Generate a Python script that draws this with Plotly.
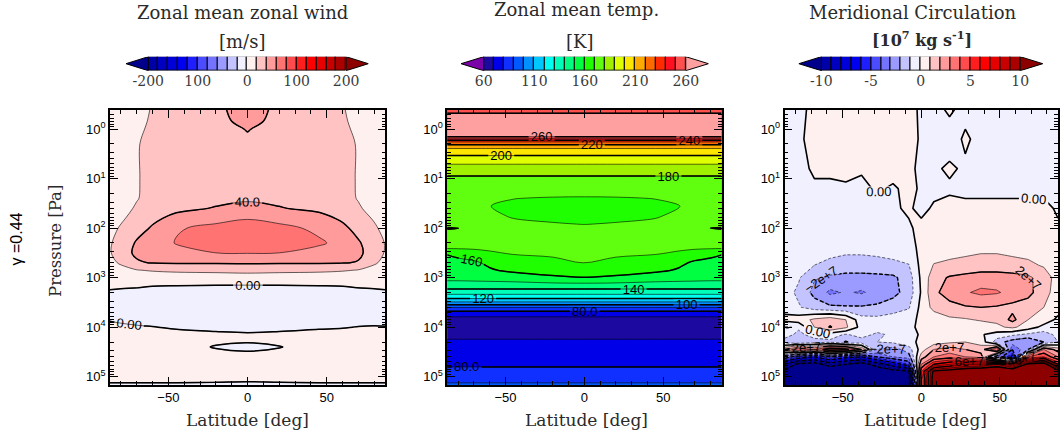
import numpy as np
import plotly.graph_objects as go

# ======================= DATA =======================
# Panel 1 : zonal-mean zonal wind [m/s]
wind_lat = [-87, -80, -70, -60, -45, -20, 0, 20, 45, 60, 70, 80, 87]
wind_p = [0.4, 0.7, 1.0, 2.0, 10, 25, 40, 63, 100, 200, 316, 500, 708, 1000,
          1585, 3162, 6310, 10000, 15850, 25120, 39810, 79430, 112200, 158500]
wind_u = [
    [8, 10, 15, 21, 26, 34, 52, 34, 26, 21, 15, 10, 8],
    [8, 10, 16, 22, 27, 33, 47, 33, 27, 22, 16, 10, 8],
    [8, 10, 17, 23, 27, 32, 41, 32, 27, 23, 17, 10, 8],
    [8, 11, 19, 24, 27, 31, 36, 31, 27, 24, 19, 11, 8],
    [8, 11, 19, 24, 28, 31, 34, 31, 28, 24, 19, 11, 8],
    [8, 12, 19, 26, 31, 36, 38, 36, 31, 26, 19, 12, 8],
    [9, 14, 22, 29, 36, 41, 44, 41, 36, 29, 22, 14, 9],
    [11, 17, 27, 36, 45, 55, 59, 55, 46, 37, 28, 18, 11],
    [14, 22, 33, 42, 58.5, 64, 67, 64, 57, 44, 34, 23, 14],
    [18, 28, 42, 50, 61, 69, 70, 69, 62, 56, 42, 30, 19],
    [18, 33, 43, 48, 54, 60, 61, 60, 55, 49, 43, 33, 18],
    [12, 24, 38, 41, 42, 42, 42, 42, 42, 41, 39, 24, 12],
    [3, 10, 19, 22, 24, 25, 26, 25, 24, 22, 19, 10, 3],
    [3, 4, 6, 7, 9, 10, 11, 10, 9, 7, 6, 4, 3],
    [1, 0.5, 0.2, -1, -2, -3, -3.5, -3, -2, -1, 0.2, 0.5, 1],
    [-6, -6, -7, -7, -8, -8, -8, -8, -8, -7, -7, -6, -6],
    [-2, -3, -4, -5, -5, -6, -6, -6, -5, -5, -4, -3, -2],
    [3, 2, 1, 0.3, -1, -2, -2.5, -2, -1, -0.5, 0.3, 0.5, 0.2],
    [5, 5, 4.5, 4, 3.5, 2.5, 2, 2.5, 3.5, 4, 4.5, 5, 5],
    [5, 5, 4.5, 4, 3, -0.5, -1.5, -0.3, 3, 4, 4.5, 5, 5],
    [5, 5, 4.5, 4, 3.5, 2.5, 2, 2.5, 3.5, 4, 4.5, 5, 5],
    [2.5, 2.5, 2.5, 2.5, 2.5, 2.5, 2.5, 2.5, 2.5, 2.5, 2.5, 2.5, 2.5],
    [1.5, 1.5, 1.5, 1.5, 1.5, 1.2, 0.8, 1.2, 1.5, 1.5, 1.5, 1.5, 1.5],
    [-1.5, -1.5, -1.5, -1.5, -1.5, -1.6, -1.6, -1.6, -1.5, -1.5, -1.5, -1.5, -1.5],
]

# Panel 2 : zonal-mean temperature [K]
temp_lat = [-87, -80, -70, -60, -45, -20, 0, 20, 45, 60, 70, 80, 87]
temp_p = [0.40, 0.56, 1.0, 1.26, 1.45, 1.58, 1.78, 2.0, 2.5, 3.5, 5.0, 9.0,
          14, 25, 36, 56, 83, 100, 141, 257, 339, 500, 708, 1000,
          1479, 1950, 2427, 2884, 3311, 3758, 4315, 5248, 7079, 10000, 12589,
          19953, 31623, 50119, 89125, 112202, 158489]
temp_k = [
    [256.5] * 13,
    [263] * 13,
    [268] * 13,
    [265] * 13,
    [259.5] * 13,
    [249] * 13,
    [232] * 13,
    [222] * 13,
    [209.5] * 13,
    [199.5] * 13,
    [190.5] * 13,
    [179.8] * 13,
    [177, 177, 177, 177, 177, 176, 176, 176, 177, 177, 177, 177, 177],
    [175, 174, 173, 172, 170.2, 169.4, 169.2, 169.4, 170.2, 172, 173, 174, 175],
    [174, 173, 172, 170.1, 168.5, 168, 168, 168, 168.5, 169.8, 172, 173, 174],
    [174, 173, 172, 171, 169.5, 168.8, 168.5, 168.8, 169.5, 171, 172, 173, 174],
    [175, 174, 173, 172, 171, 170.3, 169.9, 170.3, 171, 172, 173, 174, 175],
    [181, 180.3, 176, 173, 172, 171, 171, 171, 172, 173, 176, 180.3, 181],
    [175, 174, 173, 173, 172, 171.5, 171.5, 171.5, 172, 173, 173, 174, 175],
    [170.2, 170.5, 171, 171.5, 172, 172.5, 172.5, 172.5, 172, 171.5, 171, 170.5, 170.2],
    [160.2, 162, 164.5, 168, 170.1, 171, 171.5, 171, 170.1, 168, 164.5, 162, 160.2],
    [157, 157.5, 158.5, 162, 165, 168, 170.3, 168, 165, 162, 158.5, 157.5, 157],
    [155, 155, 155.5, 159, 162, 164, 165, 164, 162, 159, 155.5, 155, 155],
    [153, 153, 153.5, 154, 155, 158.5, 159.8, 158.5, 155, 154, 153.5, 153, 153],
    [145] * 13,
    [135] * 13,
    [125] * 13,
    [115] * 13,
    [105] * 13,
    [95] * 13,
    [85] * 13,
    [75] * 13,
    [66] * 13,
    [62.5] * 13,
    [65] * 13,
    [72] * 13,
    [76] * 13,
    [79.3] * 13,
    [81] * 13,
    [87] * 13,
    [93] * 13,
]

# Panel 3 : meridional mass streamfunction [10^7 kg/s]
circ_lat = [-87, -78, -68, -58, -48, -38, -28, -18, -8, 0, 8, 18, 28, 38, 48, 58, 68, 78, 87]
circ_p = [0.4, 1.6, 6.3, 16, 40, 100, 251, 562, 1000, 1995, 3981, 7079, 10000,
          14125, 19953, 28184, 39811, 56234, 79433, 112202, 158489]
circ_psi_1e7 = [
    [-0.2, -0.2, 0.2, 0.3, 0.2, 0.3, 0.2, 0.3, 0.2, -0.1, -0.2, 0.1, -0.2, -0.3, -0.2, -0.3, -0.2, -0.3, -0.2],
    [-0.2, -0.1, 0.2, 0.2, 0.1, 0.3, 0.2, 0.2, 0.3, -0.1, -0.2, -0.3, 0.1, -0.2, -0.3, -0.2, -0.1, -0.2, -0.2],
    [-0.1, -0.2, 0.1, 0.2, 0.2, 0.1, 0.2, 0.3, 0.2, -0.2, -0.1, 0.1, -0.1, -0.2, -0.1, -0.2, -0.3, -0.1, -0.2],
    [-0.2, -0.1, -0.1, -0.2, -0.1, -0.2, 0.1, -0.1, 0.2, -0.1, -0.2, -0.1, -0.2, -0.1, -0.2, -0.1, -0.2, -0.2, -0.1],
    [-0.2, -0.3, -0.2, -0.3, -0.2, -0.3, -0.2, -0.1, 0.1, -0.2, 0.1, 0.2, 0.2, 0.1, 0.2, 0.1, 0.2, 0.2, -0.1],
    [-0.3, -0.4, -0.5, -0.5, -0.5, -0.5, -0.4, -0.3, -0.1, 0.2, 0.3, 0.4, 0.4, 0.4, 0.4, 0.4, 0.3, 0.2, 0.1],
    [-0.3, -0.5, -0.6, -0.7, -0.8, -0.8, -0.7, -0.6, -0.3, 0.2, 0.5, 0.6, 0.7, 0.8, 0.8, 0.7, 0.6, 0.4, 0.2],
    [-0.4, -0.7, -1.0, -1.2, -1.3, -1.3, -1.3, -1.2, -1.05, 0.3, 1.05, 1.2, 1.3, 1.4, 1.4, 1.3, 1.2, 0.9, 0.5],
    [-0.5, -0.9, -1.9, -2.2, -2.4, -2.4, -2.3, -2.2, -1.5, 0.2, 1.6, 2.1, 2.3, 2.5, 2.5, 2.4, 2.2, 1.5, 0.6],
    [-0.6, -1.2, -2.3, -3.2, -2.9, -3.1, -2.7, -2.3, -1.6, 0.1, 1.8, 2.4, 2.9, 3.2, 3.1, 2.7, 2.3, 1.4, 0.5],
    [-0.4, -0.9, -1.5, -1.8, -1.9, -1.9, -1.8, -1.5, -1.1, 0.3, 1.3, 1.7, 1.9, 2.0, 1.9, 1.7, 1.5, 1.0, 0.4],
    [0.3, 0.5, 1.2, 1.6, 1.0, -0.6, -0.7, -0.5, -0.3, 0.2, 0.4, 0.8, 0.9, 1.1, 1.2, 2.3, 1.0, 0.5, -0.2],
    [-1.2, -0.8, 1.0, 2.1, 1.2, -0.4, -0.5, -0.3, -0.2, 0.2, 0.3, 0.4, 0.3, 0.5, 0.8, 1.2, 0.5, -0.3, -0.6],
    [-0.5, -1.3, -0.5, -0.6, -1.1, -0.6, -1.2, -0.8, -0.3, 0.1, 0.4, 0.3, 0.2, 0.1, -0.4, -0.8, -1.2, -1.5, -0.7],
    [-1.5, -2.0, -1.5, -1.2, -2.1, -1.5, -1.0, -0.8, -0.4, 0.3, 0.5, 0.8, 1.0, 0.6, -1.5, -2.5, -3.0, -2.0, -1.0],
    [2.0, 4.0, 3.0, 5.0, 4.5, 2.0, -2.0, -2.5, -1.5, 0.5, 2.0, 2.5, 2.0, 1.5, 4.0, -4.0, -2.0, 3.0, 1.5],
    [-3.0, -5.0, -6.0, -4.0, -5.5, -6.0, -4.0, -3.0, -2.5, 1.5, 3.0, 3.5, 3.0, 2.5, -3.0, -6.0, 4.0, 5.0, 3.0],
    [-8.0, -10.5, -11.0, -9.0, -10.0, -11.0, -9.0, -7.0, -5.0, 3.0, 6.0, 7.0, 8.0, 8.0, 9.0, 7.0, 10.5, 11.0, 6.0],
    [-11.0, -12.0, -12.5, -12.5, -12.5, -12.5, -12.0, -11.0, -10.5, 5.0, 10.5, 11.0, 11.5, 12.0, 12.0, 12.0, 12.5, 12.0, 11.0],
    [-12.0, -13.0, -13.0, -13.0, -13.0, -13.0, -13.0, -12.5, -11.0, 4.0, 11.0, 12.0, 12.5, 13.0, 13.0, 13.0, 13.0, 12.5, 12.0],
    [-12.0, -13.0, -13.0, -13.0, -13.0, -13.0, -13.0, -12.5, -11.0, 4.0, 11.0, 12.0, 12.5, 13.0, 13.0, 13.0, 13.0, 12.5, 12.0],
]

# contour / colour-bar levels
wind_levels = [-200, -180, -160, -140, -120, -100, -80, -60, -40, -20, 0,
               20, 40, 60, 80, 100, 120, 140, 160, 180, 200]
temp_levels = [60, 70, 80, 90, 100, 110, 120, 130, 140, 150, 160,
               170, 180, 190, 200, 210, 220, 230, 240, 250, 260]
circ_levels = [-10, -9, -8, -7, -6, -5, -4, -3, -2, -1, 0,
               1, 2, 3, 4, 5, 6, 7, 8, 9, 10]

# colour tables: [below-range, 20 bands, above-range]
bwr_colors = ["#00008c", "#0000a8", "#0000c0", "#0000d8", "#0000f0", "#1e1eff",
              "#4b4bff", "#7373ff", "#9b9bff", "#c3c3ff", "#f0f0ff",
              "#fff0f0", "#ffc3c3", "#ff9b9b", "#ff7373", "#ff4b4b", "#ff1e1e",
              "#ff0000", "#e60000", "#c80000", "#aa0000", "#8c0000"]
temp_colors = ["#7a00a8", "#1c0aa0", "#0000e8", "#1030ff", "#0058ff", "#0090ff",
               "#00c8ff", "#00fff0", "#00ffb8", "#00ff80", "#00ff40",
               "#20ff00", "#60ff10", "#a0f000", "#e0ff00", "#ffe600", "#ffaa00",
               "#ff6a00", "#ff2a00", "#ff1020", "#ff5050", "#ffa0a0"]

# tick labels
lat_tickvals = [-50, 0, 50]
lat_ticktext = ["\u221250", "0", "50"]
lat_minor = [-80, -70, -60, -40, -30, -20, -10, 10, 20, 30, 40, 60, 70, 80]
p_tickvals = [1, 10, 100, 1000, 10000, 100000]
p_ticktext = ["10<sup>0</sup>", "10<sup>1</sup>", "10<sup>2</sup>",
              "10<sup>3</sup>", "10<sup>4</sup>", "10<sup>5</sup>"]
wind_cb_vals = [-200, -100, 0, 100, 200]
wind_cb_text = ["-200", "100", "0", "100", "200"]
temp_cb_vals = [60, 110, 160, 210, 260]
temp_cb_text = ["60", "110", "160", "210", "260"]
circ_cb_vals = [-10, -5, 0, 5, 10]
circ_cb_text = ["-10", "-5", "0", "5", "10"]

# ======================= STYLE =======================
W, H = 1060, 435
SERIF = "DejaVu Serif"
SANS = "Liberation Sans"
TXT = "#2a2a2a"


def px_x(v):
    return v / W


def px_y(v):
    return 1 - v / H


p_minor = [m * 10.0 ** e for e in range(-1, 5) for m in range(2, 10)]
p_minor = [v for v in p_minor if 0.41 < v < 1.47e5]

panel_x = [[110, 386], [448, 723], [786, 1060]]
panel_y = [px_y(385), px_y(110)]
LAT_RANGE = [-87, 87]
P_RANGE = [5.168, -0.384]


def colorscale(colors):
    n = len(colors) - 1
    return [[i / n, c] for i, c in enumerate(colors)]


def fill_trace(x, y, z, levels, colors, k, lw, smooth):
    return go.Contour(
        x=x, y=y, z=z, xaxis=f"x{k}", yaxis=f"y{k}", autocontour=False,
        contours=dict(start=levels[0], end=levels[-1], size=levels[1] - levels[0],
                      coloring="fill", showlines=lw > 0),
        colorscale=colorscale(colors), showscale=False,
        line=dict(color="black", width=lw if lw > 0 else 0.1, smoothing=smooth),
        hoverinfo="skip")


def line_trace(x, y, z, start, end, size, k, width, dash="solid",
               labels=False, fmt=".3r", smooth=1.0):
    return go.Contour(
        x=x, y=y, z=z, xaxis=f"x{k}", yaxis=f"y{k}", autocontour=False,
        contours=dict(start=start, end=end, size=size, coloring="none",
                      showlabels=labels, labelformat=fmt,
                      labelfont=dict(family=SANS, size=13, color="black")),
        line=dict(color="black", width=width, dash=dash, smoothing=smooth),
        showscale=False, hoverinfo="skip")


fig = go.Figure()

# ---- panel 1 : wind
fig.add_trace(fill_trace(wind_lat, wind_p, wind_u, wind_levels, bwr_colors, "", 0.6, 1.0))
fig.add_trace(line_trace(wind_lat, wind_p, wind_u, -40, 80, 40, "", 1.5, labels=True))

# ---- panel 2 : temperature
fig.add_trace(fill_trace(temp_lat, temp_p, temp_k, temp_levels, temp_colors, 2, 0.6, 1.0))
fig.add_trace(line_trace(temp_lat, temp_p, temp_k, 60, 260, 20, 2, 1.5, labels=True))

# ---- panel 3 : circulation (kg/s)
psi = (np.array(circ_psi_1e7) * 1e7).tolist()
lv = [v * 1e7 for v in circ_levels]
step = lv[1] - lv[0]
fig.add_trace(fill_trace(circ_lat, circ_p, psi, lv, bwr_colors, 3, 0, 0))
fig.add_trace(line_trace(circ_lat, circ_p, psi, lv[0], -step, step, 3, 0.6,
                         dash="3px,2px", smooth=0))
fig.add_trace(line_trace(circ_lat, circ_p, psi, step, lv[-1], step, 3, 0.6, smooth=0))
fig.add_trace(line_trace(circ_lat, circ_p, psi, lv[0], -2 * step, 2 * step, 3, 1.4,
                         dash="4px,2px", labels=True, fmt=".0e", smooth=0))
fig.add_trace(line_trace(circ_lat, circ_p, psi, 2 * step, lv[-1], 2 * step, 3, 1.4,
                         labels=True, fmt=".0e", smooth=0))
fig.add_trace(line_trace(circ_lat, circ_p, psi, 0, 0, step, 3, 1.6,
                         labels=True, fmt=".3r", smooth=0))

# ---- colour bars (bars + end triangles on their own axes)
cb_specs = [
    (4, wind_levels, bwr_colors, 45),
    (5, temp_levels, temp_colors, 22.5),
    (6, circ_levels, bwr_colors, 2.27),
]
for k, levels, colors, ext in cb_specs:
    lo, hi = levels[0], levels[-1]
    widths = [levels[i + 1] - levels[i] for i in range(len(levels) - 1)]
    centers = [levels[i] + widths[i] / 2 for i in range(len(widths))]
    fig.add_trace(go.Bar(
        x=centers, y=[1] * len(centers), width=widths, base=0,
        marker=dict(color=colors[1:-1], line=dict(color="black", width=1)),
        xaxis=f"x{k}", yaxis=f"y{k}", hoverinfo="skip", cliponaxis=False,
        showlegend=False))
    fig.add_trace(go.Scatter(
        x=[lo, lo - ext, lo, lo], y=[0, 0.5, 1, 0], mode="lines", fill="toself",
        fillcolor=colors[0], line=dict(color="black", width=1),
        xaxis=f"x{k}", yaxis=f"y{k}", hoverinfo="skip", cliponaxis=False,
        showlegend=False))
    fig.add_trace(go.Scatter(
        x=[hi, hi + ext, hi, hi], y=[0, 0.5, 1, 0], mode="lines", fill="toself",
        fillcolor=colors[-1], line=dict(color="black", width=1),
        xaxis=f"x{k}", yaxis=f"y{k}", hoverinfo="skip", cliponaxis=False,
        showlegend=False))

# ======================= LAYOUT =======================
layout = dict(width=W, height=H, margin=dict(l=0, r=0, t=0, b=0),
              paper_bgcolor="white", plot_bgcolor="white", showlegend=False,
              bargap=0, barmode="overlay")

tick_font = dict(family=SANS, size=13, color="black")
for i, (x0, x1) in enumerate(panel_x):
    suf = "" if i == 0 else str(i + 1)
    layout[f"xaxis{suf}"] = dict(
        domain=[px_x(x0), px_x(x1)], anchor=f"y{suf}", range=LAT_RANGE,
        tickmode="array", tickvals=lat_tickvals, ticktext=lat_ticktext,
        ticks="inside", ticklen=8, tickwidth=1, tickcolor="black",
        minor=dict(tickmode="array", tickvals=lat_minor, ticks="inside",
                   ticklen=4, tickwidth=1, tickcolor="black"),
        showline=True, linecolor="black", linewidth=1.5, mirror="ticks",
        showgrid=False, zeroline=False, tickfont=tick_font)
    layout[f"yaxis{suf}"] = dict(
        domain=panel_y, anchor=f"x{suf}", type="log", range=P_RANGE,
        tickmode="array", tickvals=p_tickvals, ticktext=p_ticktext,
        ticks="inside", ticklen=8, tickwidth=1, tickcolor="black",
        minor=dict(tickmode="array", tickvals=p_minor, ticks="inside",
                   ticklen=4, tickwidth=1, tickcolor="black"),
        showline=True, linecolor="black", linewidth=1.5, mirror="ticks",
        showgrid=False, zeroline=False, tickfont=tick_font)

cb_x = {4: [126, 369.3], 5: [461.7, 710], 6: [800, 1045]}
cb_rng = {4: [-245.5, 245.5], 5: [37.3, 282.7], 6: [-12.3, 12.3]}
cb_ticks = {4: (wind_cb_vals, wind_cb_text), 5: (temp_cb_vals, temp_cb_text),
            6: (circ_cb_vals, circ_cb_text)}
for k in (4, 5, 6):
    layout[f"xaxis{k}"] = dict(
        domain=[px_x(cb_x[k][0]), px_x(cb_x[k][1])], anchor=f"y{k}",
        range=cb_rng[k], tickmode="array", tickvals=cb_ticks[k][0],
        ticktext=cb_ticks[k][1], ticks="", showline=False, showgrid=False,
        zeroline=False, tickfont=dict(family=SERIF, size=14, color="#3a3a3a"))
    layout[f"yaxis{k}"] = dict(domain=[px_y(70.7), px_y(56.7)], anchor=f"x{k}",
                               range=[0, 1], visible=False)


def ann(text, x, y, size=18, angle=0, family=SERIF, color=TXT):
    return dict(text=text, x=px_x(x), y=px_y(y), xref="paper", yref="paper",
                xanchor="center", yanchor="middle", showarrow=False,
                textangle=angle, font=dict(family=family, size=size, color=color))


layout["annotations"] = [
    ann("Zonal mean zonal wind", 243.3, 13),
    ann("[m/s]", 242.5, 41),
    ann("Zonal mean temp.", 577.7, 10),
    ann("[K]", 581, 41),
    ann("Meridional Circulation", 914, 13),
    ann("<b>[10<sup>7</sup> kg s<sup>-1</sup>]</b>", 924, 39, size=16),
    ann("Latitude [deg]", 248, 420, size=17),
    ann("Latitude [deg]", 587.7, 420, size=17),
    ann("Latitude [deg]", 927, 420, size=17),
    ann("Pressure [Pa]", 55, 241, size=16.5, angle=-90),
    ann("\u03b3 =0.44", 17.5, 239, size=16, angle=-90, family=SANS, color="black"),
]

fig.update_layout(**layout)
fig.write_html("out.html")
